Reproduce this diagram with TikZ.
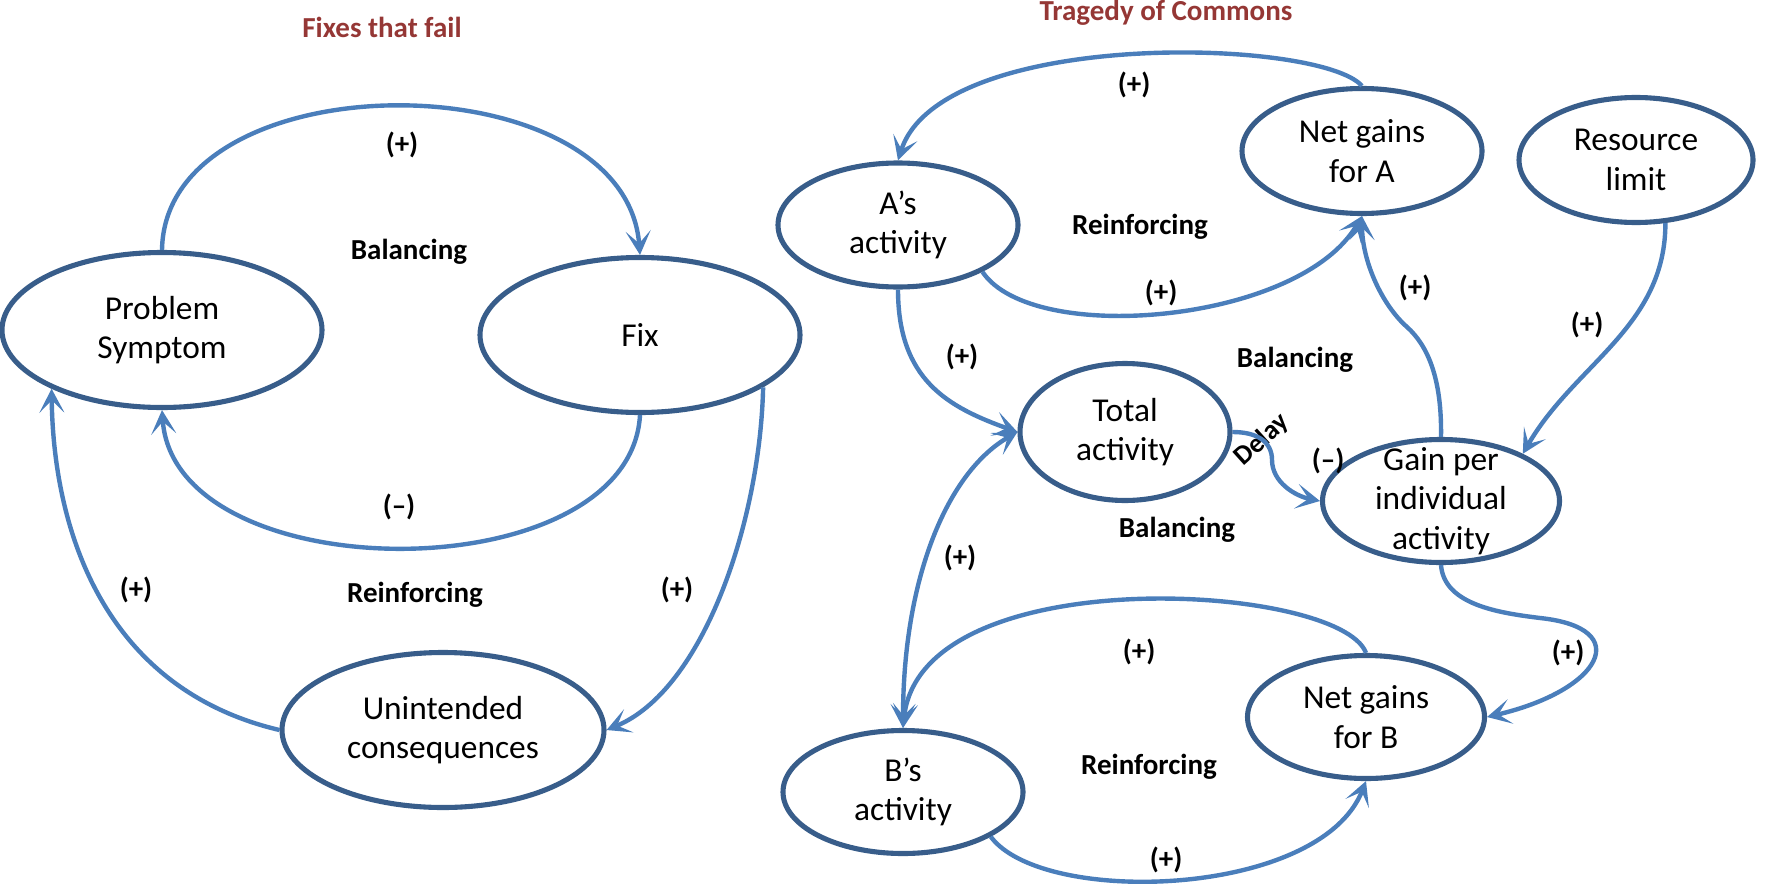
\documentclass[tikz,border=0pt]{standalone}
\usepackage{fontspec}
\setmainfont{Carlito}
\usetikzlibrary{shapes.geometric,arrows.meta}
\definecolor{ovalline}{HTML}{385D8A}
\definecolor{linkline}{HTML}{4A7EBB}
\definecolor{titlered}{HTML}{953735}
\begin{document}
\begin{tikzpicture}[x=0.02cm,y=-0.02cm,
    var/.style 2 args={ellipse,draw=ovalline,line width=2.9pt,inner sep=-1cm,
      minimum width=#1*0.02cm,minimum height=#2*0.02cm,align=center,
      font=\fontsize{19}{22.5}\selectfont},
    ltip/.tip={Stealth[length=0.48cm,width=0.5cm,inset=0.25cm]},
    lnk/.style={draw=linkline,line width=2.5pt,-ltip},
    lbl/.style={font=\fontsize{16.5}{19}\selectfont\bfseries},
    ttl/.style={lbl,text=titlered}]
  \useasboundingbox (0,0) rectangle (1790,892);
  \path
    (162,330) node[var={320}{155}] (ps) {Problem\\Symptom}
    (640,335) node[var={320}{155}] (fix) {Fix}
    (443,730) node[var={322}{155}] (uc) {Unintended\\consequences}
    (898,225) node[var={240}{124}] (aa) {A’s\\activity}
    (1362,151) node[var={240}{125}] (nga) {Net gains\\for A}
    (1636,160) node[var={234}{125}] (res) {Resource\\limit}
    (1125,432) node[var={210}{137}] (tot) {Total\\activity}
    (1441,501) node[var={237}{123}] (gain) {Gain per\\individual\\activity}
    (903,792) node[var={240}{123}] (ba) {B’s\\activity}
    (1366,717) node[var={237}{123}] (ngb) {Net gains\\for B};
  \path
    (382,27) node[ttl] (fixttl) {Fixes that fail}
    (1166,13) node[ttl] (tragttl) {Tragedy of Commons}
    (402,145) node[lbl] (f1) {(+)}
    (409,252) node[lbl] (fbal) {Balancing}
    (399,507) node[lbl] (f2) {(–)}
    (136,590) node[lbl] (f3) {(+)}
    (415,595) node[lbl] (frein) {Reinforcing}
    (677,590) node[lbl] (f4) {(+)}
    (1134,85) node[lbl] (t1) {(+)}
    (1140,227) node[lbl] (trein1) {Reinforcing}
    (1161,293) node[lbl] (t2) {(+)}
    (1415,288) node[lbl] (t3) {(+)}
    (1587,325) node[lbl] (t4) {(+)}
    (962,357) node[lbl] (t5) {(+)}
    (1295,360) node[lbl] (tbal1) {Balancing}
    (1262,440) node[lbl,font=\fontsize{15.5}{18}\selectfont\bfseries,inner sep=0pt,rotate=42] (delay) {Delay}
    (1328,461) node[lbl,inner sep=1pt] (t6) {(–)}
    (1177,530) node[lbl] (tbal2) {Balancing}
    (960,558) node[lbl] (t7) {(+)}
    (1568,653) node[lbl] (t8) {(+)}
    (1139,652) node[lbl] (t9) {(+)}
    (1149,767) node[lbl] (trein2) {Reinforcing}
    (1166,860) node[lbl] (t10) {(+)};
  \coordinate (kinkA) at (1407,327);
  \coordinate (dly) at (1272,460);
  \coordinate (bendB) at (1540,618);
  \begin{scope}[lnk]
    \draw (ps.north) .. controls +(3,-192) and +(-15,-197) .. (fix.north);
    \draw (fix.south) .. controls +(-10,178) and +(13,182) .. (ps.south);
    \draw (uc.west) .. controls +(-170,-40) and +(2,150) .. (ps.208);
    \draw (fix.-23) .. controls +(-3,134) and +(97,-40) .. (uc.east);
    \draw (nga.north) .. controls +(-42,-48) and +(42,-133) .. (aa.north);
    \draw (aa.-29) .. controls +(50,75) and +(-62,107) .. (nga.south);
    \draw (gain.north) .. controls +(1,-60) and +(20,18) .. (kinkA)
      .. controls +(-25,-22) and +(0,45) .. (nga.south);
    \draw (res.-65) .. controls +(0,104) and +(52,-90) .. (gain.30);
    \draw (aa.south) .. controls +(0,90) and +(-70,-25) .. (tot.west);
    \draw[ltip-ltip] (ba.north) .. controls +(0,-150) and +(-70,40) .. (tot.west);
    \draw (tot.east) .. controls +(25,0) and +(0,-18) .. (dly)
      .. controls +(0,22) and +(-25,-5) .. (gain.west);
    \draw (gain.south) .. controls +(3,40) and +(-40,-5) .. (bendB)
      .. controls +(95,10) and +(115,-27) .. (ngb.east);
    \draw (ngb.north) .. controls +(-26,-70) and +(17,-170) .. (ba.north);
    \draw (ba.-27) .. controls +(52,70) and +(-46,117) .. (ngb.south);
  \end{scope}
\end{tikzpicture}
\end{document}
